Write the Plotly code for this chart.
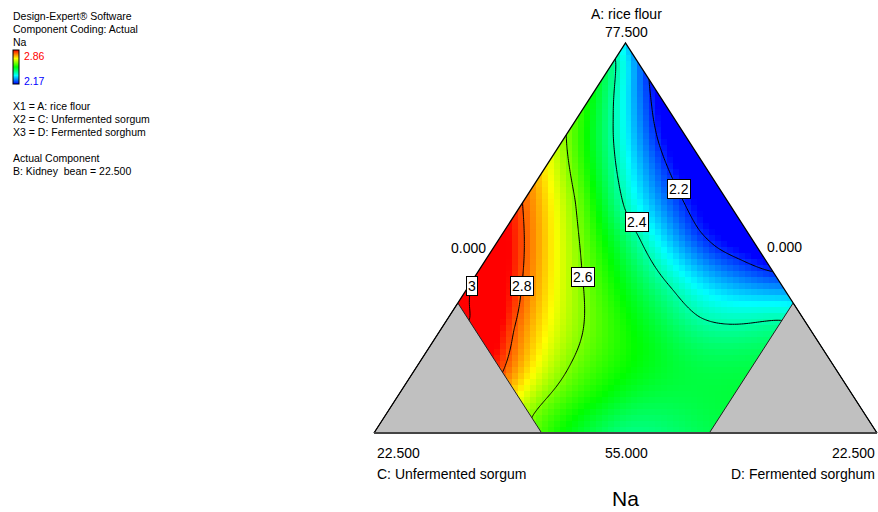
import numpy as np
import plotly.graph_objects as go

# ------------------------------------------------------------------
# Data (actual component amounts).
# A: rice flour, D: Fermented sorghum, C = 77.5 - A - D ; B fixed = 22.5
# Simplex shown: A 55..77.5, C 0..22.5, D 0..22.5 ; constraints C<=15, D<=15
# ------------------------------------------------------------------
A_LOW, SPAN, TOTAL = 55.0, 22.5, 77.5
C_MAX, D_MAX = 15.0, 15.0

# points lying on each printed contour line
c22_A = [75.4, 73.1, 71.9, 69.0, 66.7, 65.7, 65.0, 64.3]
c22_D = [2.1, 3.45, 4.25, 6.6, 8.7, 10.0, 11.4, 13.2]
c24_A = [76.6, 73.1, 71.3, 68.0, 66.3, 63.25, 61.7, 61.3, 61.5]
c24_D = [0.0, 1.65, 2.6, 4.7, 6.2, 9.25, 11.2, 13.4, 15.0]
c26_A = [72.2, 68.4, 64.4, 60.9, 59.0, 57.5, 56.0]
c26_D = [0.0, 2.3, 4.6, 6.4, 6.8, 6.8, 6.6]
c28_A = [68.1, 63.4, 60.9, 58.5]
c28_D = [0.1, 2.4, 3.3, 4.0]
c30_A = [63.7, 61.7]
c30_D = [0.0, 0.95]
# additional spot values judged from the colour field
extra_A = [77.5, 69.4, 55.0, 55.0, 55.0, 62.5, 62.5, 59.8, 56.9, 58.4]
extra_D = [0.0, 8.1, 11.25, 7.5, 15.0, 0.0, 15.0, 9.95, 9.2, 15.0]
extra_val = [2.31, 2.10, 2.43, 2.56, 2.46, 3.03, 2.33, 2.50, 2.51, 2.47]

contour_levels = [2.2, 2.4, 2.6, 2.8, 3.0]
label_text = ["3", "2.8", "2.6", "2.4", "2.2"]
label_A = [63.48, 63.48, 64.02, 67.19, 69.06]
label_D = [0.13, 2.37, 4.83, 5.66, 6.63]

color_min, color_max = 2.17, 2.86

# ------------------------------------------------------------------
# frame geometry (pixels of the 878x512 page)
W, H = 878, 512
TL, TR, TT, TB = 374.0, 877.0, 43.0, 433.0


def to_xy(A, D):
    a = (np.asarray(A, float) - A_LOW) / SPAN
    d = np.asarray(D, float) / SPAN
    return d + a / 2.0, a


def px(x):
    return (x - TL) / (TR - TL)


def py(y):
    return (TB - y) / (TB - TT)


# ------------------------------------------------------------------
# smooth response surface through the read points (thin-plate spline)
sA, sD, sV = [], [], []
for lv, AA, DD in zip(contour_levels, [c22_A, c24_A, c26_A, c28_A, c30_A],
                      [c22_D, c24_D, c26_D, c28_D, c30_D]):
    sA += AA
    sD += DD
    sV += [lv] * len(AA)
sA += extra_A
sD += extra_D
sV += extra_val
X0, Y0 = to_xy(sA, sD)
Y0s = Y0 * np.sqrt(3) / 2
V0 = np.array(sV)


def kern(r2):
    out = np.zeros_like(r2)
    m = r2 > 1e-12
    out[m] = 0.5 * r2[m] * np.log(r2[m])
    return out


n = len(V0)
K = kern((X0[:, None] - X0[None, :]) ** 2 + (Y0s[:, None] - Y0s[None, :]) ** 2)
K += 1e-4 * np.eye(n)
P = np.column_stack([np.ones(n), X0, Y0s])
M = np.zeros((n + 3, n + 3))
M[:n, :n] = K
M[:n, n:] = P
M[n:, :n] = P.T
sol = np.linalg.solve(M, np.concatenate([V0, np.zeros(3)]))
wts, lin = sol[:n], sol[n:]


def surface(xg, ag):
    XX, AA = np.meshgrid(xg, ag)
    YY = AA * np.sqrt(3) / 2
    xf, yf = XX.ravel(), YY.ravel()
    r2 = (xf[:, None] - X0[None, :]) ** 2 + (yf[:, None] - Y0s[None, :]) ** 2
    z = kern(r2) @ wts + lin[0] + lin[1] * xf + lin[2] * yf
    return z.reshape(XX.shape)


nx, ny = 84, 65
hx = (np.arange(nx) + 0.5) / nx
hy = (np.arange(ny) + 0.5) / ny
Zh = surface(hx, hy)

cx = np.linspace(0, 1, 220)
cy = np.linspace(0, 1, 180)
Zc = surface(cx, cy)

cscale = [[0.0, "#0000ff"], [0.25, "#00ffff"], [0.5, "#00ff00"],
          [0.75, "#ffff00"], [1.0, "#ff0000"]]

FONT = "Liberation Sans, Arial, sans-serif"

fig = go.Figure()
fig.add_trace(go.Heatmap(
    x=hx, y=hy, z=Zh, zmin=color_min, zmax=color_max, colorscale=cscale,
    zsmooth=False, hoverinfo="skip",
    colorbar=dict(x=13 / W, xanchor="left", y=1 - 50 / H, yanchor="top",
                  lenmode="pixels", len=34, thicknessmode="pixels", thickness=6,
                  outlinewidth=1, outlinecolor="black", showticklabels=False,
                  ticks="", xpad=0, ypad=0, borderwidth=0)))
fig.add_trace(go.Contour(
    x=cx, y=cy, z=Zc, showscale=False, hoverinfo="skip",
    contours=dict(coloring="lines", start=contour_levels[0],
                  end=contour_levels[-1], size=0.2, showlabels=False),
    colorscale=[[0, "black"], [1, "black"]],
    line=dict(width=1, smoothing=1.0)))

# white masks outside the simplex
fig.add_trace(go.Scatter(x=[-0.02, 0, 0.5, 0.5, -0.02], y=[0, 0, 1, 1.02, 1.02],
                         fill="toself", fillcolor="white", mode="none",
                         hoverinfo="skip", showlegend=False))
fig.add_trace(go.Scatter(x=[1.02, 1, 0.5, 0.5, 1.02], y=[0, 0, 1, 1.02, 1.02],
                         fill="toself", fillcolor="white", mode="none",
                         hoverinfo="skip", showlegend=False))

# infeasible corners (C > 15, D > 15)
gC_x, gC_y = to_xy([A_LOW, A_LOW, A_LOW + (SPAN - C_MAX), A_LOW], [0, SPAN - C_MAX, 0, 0])
gD_x, gD_y = to_xy([A_LOW, A_LOW, A_LOW + (SPAN - D_MAX), A_LOW], [SPAN, D_MAX, D_MAX, SPAN])
for gx, gy in [(gC_x, gC_y), (gD_x, gD_y)]:
    fig.add_trace(go.Scatter(x=gx, y=gy, fill="toself", fillcolor="#c0c0c0",
                             mode="lines", line=dict(color="#222222", width=1),
                             hoverinfo="skip", showlegend=False))

# simplex edges
fig.add_trace(go.Scatter(x=[0, 0.5, 1], y=[0, 1, 0], mode="lines",
                         line=dict(color="black", width=1.3),
                         hoverinfo="skip", showlegend=False))
fig.add_trace(go.Scatter(x=[0, 1], y=[0, 0], mode="lines",
                         line=dict(color="#444444", width=2),
                         hoverinfo="skip", showlegend=False))

ann = []


def text(xp, yp, t, size, xanchor="center", color="black"):
    ann.append(dict(x=px(xp), y=py(yp), xref="x", yref="y", text=t, showarrow=False,
                    xanchor=xanchor, yanchor="middle",
                    font=dict(family=FONT, size=size, color=color)))


# legend block (top-left)
LX = 11
text(LX, 16, "Design-Expert® Software", 10.5, "left")
text(LX, 29, "Component Coding: Actual", 10.5, "left")
text(LX, 42, "Na", 10.5, "left")
text(22, 56, f"{color_max:.2f}", 10.5, "left", "#ff0000")
text(22, 81, f"{color_min:.2f}", 10.5, "left", "#0000ff")
text(LX, 106, "X1 = A: rice flour", 10.5, "left")
text(LX, 119, "X2 = C: Unfermented sorgum", 10.5, "left")
text(LX, 132, "X3 = D: Fermented sorghum", 10.5, "left")
text(LX, 158, "Actual Component", 10.5, "left")
text(LX, 171, "B: Kidney \u00a0bean = 22.500", 10.5, "left")

# simplex labels
text(626, 14, "A: rice flour", 14)
text(626, 32, f"{TOTAL:.3f}", 14)
text(468, 248, "0.000", 14)
text(784, 247, "0.000", 14)
text(375, 453, f"{SPAN:.3f}", 14, "left")
text(375, 474, "C: Unfermented sorgum", 14, "left")
text(626, 453, f"{A_LOW:.3f}", 14)
text(877, 453, f"{SPAN:.3f}", 14, "right")
text(877, 474, "D: Fermented sorghum", 14, "right")
text(625, 498, "Na", 21)

# boxed contour labels
lx, ly = to_xy(label_A, label_D)
for t, xx, yy in zip(label_text, lx, ly):
    ann.append(dict(x=xx, y=yy, xref="x", yref="y", text=t, showarrow=False,
                    xanchor="center", yanchor="middle", bgcolor="white",
                    bordercolor="black", borderwidth=1, borderpad=1,
                    font=dict(family=FONT, size=14, color="black")))

fig.update_layout(
    width=W, height=H, autosize=False,
    margin=dict(l=0, r=0, t=0, b=0, pad=0),
    paper_bgcolor="white", plot_bgcolor="white",
    showlegend=False, annotations=ann,
    xaxis=dict(range=[px(0), px(W)], visible=False, fixedrange=True),
    yaxis=dict(range=[py(H), py(0)], visible=False, fixedrange=True),
)
fig.write_html("out.html")
